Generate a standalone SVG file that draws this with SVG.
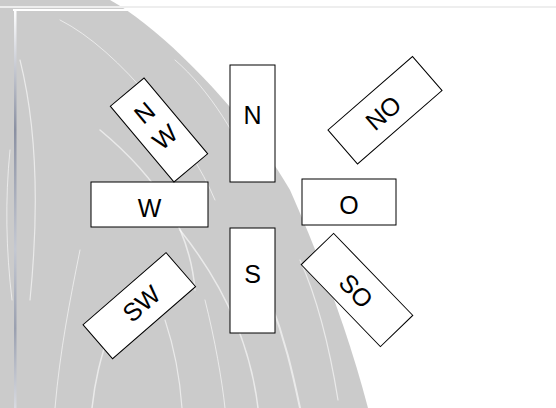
<svg xmlns="http://www.w3.org/2000/svg" width="556" height="408" viewBox="0 0 556 408">
  <defs>
    <linearGradient id="vline" gradientUnits="userSpaceOnUse" x1="0" y1="10" x2="0" y2="408">
      <stop offset="0" stop-color="#ffffff"/>
      <stop offset="0.3" stop-color="#8a90a2"/>
      <stop offset="0.6" stop-color="#c4c8d2"/>
      <stop offset="0.8" stop-color="#9aa0b0"/>
      <stop offset="1" stop-color="#d8dae0"/>
    </linearGradient>
  </defs>
  <style>
    .box { fill: #ffffff; stroke: #000000; stroke-width: 1; }
    .lbl { font-family: "Liberation Sans", Arial, sans-serif; font-size: 25px; fill: #000000; text-anchor: middle; }
    .streak { fill: none; stroke: #ffffff; stroke-linecap: round; }
  </style>
  <rect x="0" y="0" width="556" height="408" fill="#ffffff"/>
  <g id="background">
    <path d="M0,0 L110,0 C165,30 250,120 290,190 C312,240 345,320 368,408 L0,408 Z" fill="#cbcbcb"/>
    <g class="streak" stroke-opacity="0.6">
      <path d="M20,60 C35,120 40,200 30,300" stroke-width="1.2"/>
      <path d="M60,20 C120,50 190,140 215,200" stroke-width="1"/>
      <path d="M100,130 C160,180 190,230 195,290" stroke-width="1.5"/>
      <path d="M180,230 C220,280 250,340 258,408" stroke-width="1.5"/>
      <path d="M270,300 C285,340 292,370 300,408" stroke-width="2"/>
      <path d="M300,260 C318,300 330,350 338,400" stroke-width="1.2"/>
      <path d="M80,250 C70,300 60,350 55,408" stroke-width="1"/>
      <path d="M110,330 C100,360 95,380 92,408" stroke-width="1.5"/>
      <path d="M165,320 C175,350 180,380 182,408" stroke-width="1.2"/>
      <path d="M205,300 C215,340 222,380 225,408" stroke-width="1"/>
      <path d="M175,60 C210,90 240,140 255,180" stroke-width="1"/>
      <path d="M10,150 C5,200 6,250 12,300" stroke-width="1"/>
    </g>
    <line x1="0" y1="7" x2="556" y2="7" stroke="#eeeeee" stroke-width="2"/>
    <line x1="13" y1="10" x2="556" y2="10" stroke="#ffffff" stroke-width="2"/>
    <rect x="14" y="10" width="2.5" height="398" fill="url(#vline)"/>
  </g>
  <g id="connectors"/>
  <g id="node-N">
    <rect class="box" x="230" y="65" width="45" height="117"/>
    <text class="lbl" x="252.5" y="124.3">N</text>
  </g>
  <g id="node-S">
    <rect class="box" x="230" y="228" width="45" height="105"/>
    <text class="lbl" x="252.5" y="283">S</text>
  </g>
  <g id="node-W">
    <rect class="box" x="91" y="182" width="117" height="45"/>
    <text class="lbl" x="149.5" y="216.5">W</text>
  </g>
  <g id="node-O">
    <rect class="box" x="302" y="179" width="94" height="46"/>
    <text class="lbl" x="349" y="213.5">O</text>
  </g>
  <g id="node-NW" transform="translate(159,130) rotate(-40)">
    <rect class="box" x="-22" y="-49.5" width="44" height="99"/>
    <text class="lbl" x="0" y="-13.8">N</text>
    <text class="lbl" x="0" y="18">W</text>
  </g>
  <g id="node-SW" transform="translate(139.3,305.7) rotate(-41)">
    <rect class="box" x="-55" y="-22.5" width="110" height="45"/>
    <text class="lbl" x="3" y="8.6">SW</text>
  </g>
  <g id="node-NO" transform="translate(385,110.3) rotate(-41)">
    <rect class="box" x="-56" y="-22.5" width="112" height="45"/>
    <text class="lbl" x="-3" y="9.6">NO</text>
  </g>
  <g id="node-SO" transform="translate(357,290) rotate(46)">
    <rect class="box" x="-57" y="-22.5" width="114" height="45"/>
    <text class="lbl" x="0" y="10">SO</text>
  </g>
</svg>
